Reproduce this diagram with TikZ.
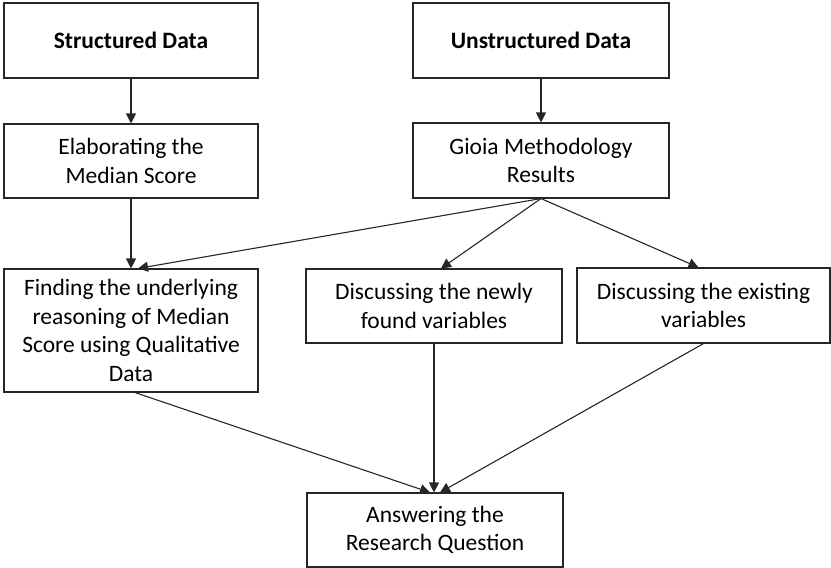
\documentclass[tikz,border=0pt]{standalone}
\usepackage{fontspec}
\setmainfont{Carlito}
\usetikzlibrary{arrows.meta,calc}

\begin{document}
\begin{tikzpicture}[x=1pt,y=-1pt,
  box/.style={draw=black!85, line width=1.1pt, fill=white, align=center,
    inner sep=0pt, font=\fontsize{23.5}{28.5}\selectfont},
  flow/.style={draw=black!85, line width=1.1pt,
    -{Triangle[length=10pt,width=10pt]}}]
  \useasboundingbox (0,0) rectangle (831,568);

  % top row: data sources
  \node[box, minimum width=254pt, minimum height=75pt, font=\fontsize{23.5}{28.5}\selectfont\bfseries]
    (sd) at (131,40.5) {Structured Data};
  \node[box, minimum width=256pt, minimum height=75pt, font=\fontsize{23.5}{28.5}\selectfont\bfseries]
    (ud) at (541,40.5) {Unstructured Data};

  % second row
  \node[box, minimum width=254pt, minimum height=74pt] (med) at (131,161)
    {Elaborating the\\Median Score};
  \node[box, minimum width=256pt, minimum height=75pt] (gioia) at (541,160.5)
    {Gioia Methodology\\Results};

  % third row
  \node[box, minimum width=254pt, minimum height=123pt] (find) at (131,330.5)
    {Finding the underlying\\reasoning of Median\\Score using Qualitative\\Data};
  \node[box, minimum width=256pt, minimum height=74pt] (newv) at (434,306)
    {Discussing the newly\\found variables};
  \node[box, minimum width=253pt, minimum height=75pt] (exv) at (703.5,305.5)
    {Discussing the existing\\variables};

  % result
  \node[box, minimum width=256pt, minimum height=74pt] (ans) at (435,530)
    {Answering the\\Research Question};

  % connectors
  \draw[flow] (sd.south) -- (med.north);
  \draw[flow] (ud.south) -- (gioia.north);
  \draw[flow] (med.south) -- (find.north);
  \draw[flow] (gioia.south) -- ($(find.north)+(7,0)$);
  \draw[flow] (gioia.south) -- ($(newv.north)+(7,0)$);
  \draw[flow] (gioia.south) -- ($(exv.north)+(-5,0)$);
  \draw[flow] ($(find.south)+(4,0)$) -- ($(ans.north)+(-5,0)$);
  \draw[flow] (newv.south) -- (newv.south |- ans.north);
  \draw[flow] (exv.south) -- ($(ans.north)+(5,0)$);
\end{tikzpicture}
\end{document}
